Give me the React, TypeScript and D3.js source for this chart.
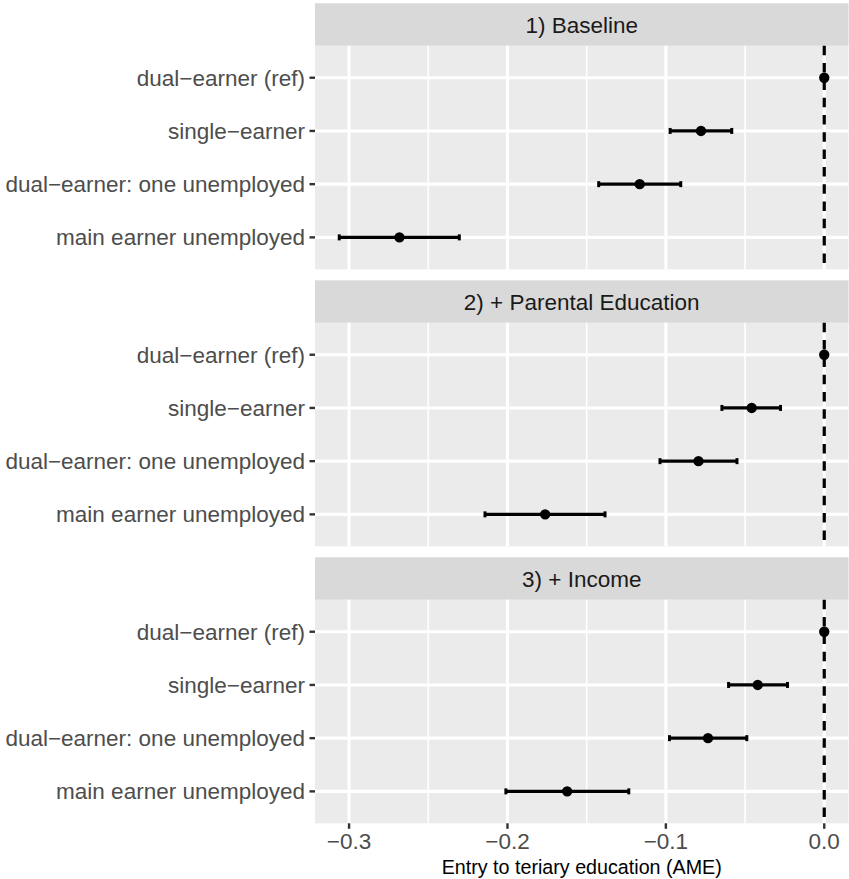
import React, { useEffect, useRef } from 'react';
import * as d3 from 'd3';

// categories, top to bottom
const categories = ['dual−earner (ref)', 'single−earner', 'dual−earner: one unemployed', 'main earner unemployed'];
const panels = ['1) Baseline', '2) + Parental Education', '3) + Income'];

// point estimates + CI per panel (same order as categories)
const estBaseline = [0, -0.0778, -0.1165, -0.2682];
const lowBaseline = [0, -0.0973, -0.1424, -0.3062];
const highBaseline = [0, -0.0584, -0.0906, -0.2304];

const estParental = [0, -0.0458, -0.0794, -0.1762];
const lowParental = [0, -0.0646, -0.1037, -0.2142];
const highParental = [0, -0.0276, -0.0551, -0.1384];

const estIncome = [0, -0.042, -0.0734, -0.1623];
const lowIncome = [0, -0.0604, -0.0977, -0.201];
const highIncome = [0, -0.0232, -0.0489, -0.1234];

const xTicks = [-0.3, -0.2, -0.1, 0];
const xMinor = [-0.25, -0.15, -0.05];
const xTitle = 'Entry to teriary education (AME)';

const App = () => {
    const svgRef = useRef(null);

    useEffect(() => {
        d3.select(svgRef.current).selectAll('*').remove();

        const width = 849;
        const height = 879;
        const left = 315;
        const right = 848.5;
        const stripH = 42.5;
        const panelH = 223.5;
        const step = 277;
        const top0 = 3.3;
        const font = '"Liberation Sans", Arial, sans-serif';

        const svg = d3.select(svgRef.current).attr('width', width).attr('height', height);
        svg.append('rect').attr('width', width).attr('height', height).attr('fill', '#fff');

        // x scale with ggplot's 5% expansion
        const allValues = [lowBaseline, lowParental, lowIncome, highBaseline, highParental, highIncome].flat();
        const lo = d3.min(allValues);
        const hi = d3.max(allValues);
        const pad = (hi - lo) * 0.05;
        const x = d3.scaleLinear().domain([lo - pad, hi + pad]).range([left, right]);

        const series = [
            { est: estBaseline, low: lowBaseline, high: highBaseline },
            { est: estParental, low: lowParental, high: highParental },
            { est: estIncome, low: lowIncome, high: highIncome },
        ];

        panels.forEach((title, i) => {
            const stripTop = top0 + i * step;
            const pTop = stripTop + stripH;
            const pBottom = pTop + panelH;

            // discrete y positions (0.6 expansion like ggplot)
            const y = d3.scaleLinear().domain([4.6, 0.4]).range([pTop, pBottom]);
            const yPos = (k) => y(4 - k);

            const g = svg.append('g');

            // strip
            g.append('rect')
                .attr('x', left).attr('y', stripTop)
                .attr('width', right - left).attr('height', stripH)
                .attr('fill', '#D9D9D9');
            g.append('text')
                .attr('x', (left + right) / 2)
                .attr('y', stripTop + stripH / 2)
                .attr('dy', '0.36em')
                .attr('text-anchor', 'middle')
                .attr('font-family', font)
                .attr('font-size', 22.5)
                .attr('fill', '#1A1A1A')
                .text(title);

            // panel background
            g.append('rect')
                .attr('x', left).attr('y', pTop)
                .attr('width', right - left).attr('height', panelH)
                .attr('fill', '#EBEBEB');

            // minor grid
            g.selectAll('.minor')
                .data(xMinor)
                .enter()
                .append('line')
                .attr('x1', (d) => x(d)).attr('x2', (d) => x(d))
                .attr('y1', pTop).attr('y2', pBottom)
                .attr('stroke', '#fff').attr('stroke-width', 1.6);

            // major grid
            g.selectAll('.majorx')
                .data(xTicks)
                .enter()
                .append('line')
                .attr('x1', (d) => x(d)).attr('x2', (d) => x(d))
                .attr('y1', pTop).attr('y2', pBottom)
                .attr('stroke', '#fff').attr('stroke-width', 3.1);

            g.selectAll('.majory')
                .data(categories)
                .enter()
                .append('line')
                .attr('x1', left).attr('x2', right)
                .attr('y1', (d, k) => yPos(k)).attr('y2', (d, k) => yPos(k))
                .attr('stroke', '#fff').attr('stroke-width', 3.1);

            // reference line at zero
            g.append('line')
                .attr('x1', x(0)).attr('x2', x(0))
                .attr('y1', pTop).attr('y2', pBottom)
                .attr('stroke', '#000').attr('stroke-width', 3.2)
                .attr('stroke-dasharray', '9.5,7.8');

            // y axis ticks + labels
            categories.forEach((c, k) => {
                g.append('line')
                    .attr('x1', left - 5.5).attr('x2', left)
                    .attr('y1', yPos(k)).attr('y2', yPos(k))
                    .attr('stroke', '#333').attr('stroke-width', 2.4);
                g.append('text')
                    .attr('x', left - 10)
                    .attr('y', yPos(k))
                    .attr('dy', '0.36em')
                    .attr('text-anchor', 'end')
                    .attr('font-family', font)
                    .attr('font-size', 22.5)
                    .attr('fill', '#4D4D4D')
                    .text(c);
            });

            // error bars and points
            const s = series[i];
            const capH = 3;
            categories.forEach((c, k) => {
                const yy = yPos(k);
                if (s.high[k] - s.low[k] > 0) {
                    g.append('line')
                        .attr('x1', x(s.low[k])).attr('x2', x(s.high[k]))
                        .attr('y1', yy).attr('y2', yy)
                        .attr('stroke', '#000').attr('stroke-width', 3.3);
                    [s.low[k], s.high[k]].forEach((v) => {
                        g.append('line')
                            .attr('x1', x(v)).attr('x2', x(v))
                            .attr('y1', yy - capH).attr('y2', yy + capH)
                            .attr('stroke', '#000').attr('stroke-width', 3);
                    });
                }
                g.append('circle')
                    .attr('cx', x(s.est[k])).attr('cy', yy)
                    .attr('r', 5.2).attr('fill', '#000');
            });

            // x axis on last panel only
            if (i === panels.length - 1) {
                const xa = svg.append('g');
                xTicks.forEach((t) => {
                    xa.append('line')
                        .attr('x1', x(t)).attr('x2', x(t))
                        .attr('y1', pBottom).attr('y2', pBottom + 5.5)
                        .attr('stroke', '#333').attr('stroke-width', 2.4);
                    xa.append('text')
                        .attr('x', x(t))
                        .attr('y', pBottom + 18)
                        .attr('dy', '0.36em')
                        .attr('text-anchor', 'middle')
                        .attr('font-family', font)
                        .attr('font-size', 22.5)
                        .attr('fill', '#4D4D4D')
                        .text(t === 0 ? '0.0' : '−' + Math.abs(t).toFixed(1));
                });
                xa.append('text')
                    .attr('x', (left + right) / 2)
                    .attr('y', 867)
                    .attr('dy', '0.36em')
                    .attr('text-anchor', 'middle')
                    .attr('font-family', font)
                    .attr('font-size', 19.7)
                    .attr('fill', '#000')
                    .text(xTitle);
            }
        });
    }, []);

    return <svg ref={svgRef} style={{ position: 'absolute', left: 0, top: 0, display: 'block' }}></svg>;
};

export default App;
